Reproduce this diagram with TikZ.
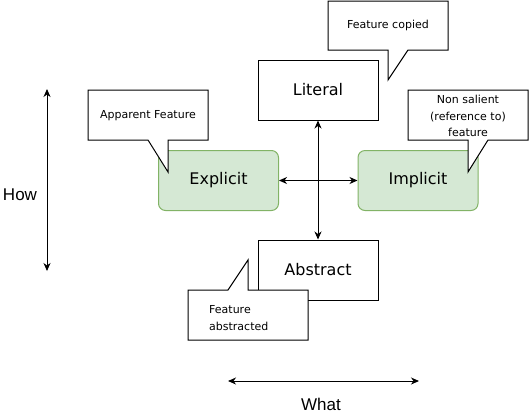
\documentclass[tikz,border=0pt]{standalone}
\usepackage{fontspec}
\setmainfont{DejaVu Sans}
\newfontfamily\arialf{Liberation Sans}
\usetikzlibrary{arrows.meta}
\definecolor{gfill}{HTML}{D5E8D4}
\definecolor{gline}{HTML}{82B366}
\begin{document}
\begin{tikzpicture}[x=1pt,y=-1pt,
  box/.style={draw=black,line width=1pt,fill=white,minimum width=120pt,minimum height=60pt,inner sep=0pt,font=\fontsize{16}{19}\selectfont},
  gbox/.style={draw=gline,line width=1pt,fill=gfill,rounded corners=7pt,minimum width=120pt,minimum height=60pt,inner sep=0pt,font=\fontsize{16}{19}\selectfont},
  callout/.style={draw=black,line width=1pt,fill=white},
  ctext/.style={font=\fontsize{11}{16.5}\selectfont,align=center,inner sep=0pt},
  axis/.style={line width=1pt,{Stealth[length=8pt,width=7pt,inset=2.5pt]}-{Stealth[length=8pt,width=7pt,inset=2.5pt]}},
  lbl/.style={font=\arialf\fontsize{17}{20}\selectfont,inner sep=0pt}
]
\useasboundingbox (0,0) rectangle (529,416);
% main boxes
\node[box] (lit) at (318,90) {Literal};
\node[box] (abs) at (318,270) {Abstract};
\node[gbox] (exp) at (218.5,180.5) {Explicit};
\node[gbox] (imp) at (418,180.5) {Implicit};
% cross connectors
\draw[axis] (exp.east) -- (imp.west);
\draw[axis] (lit.south) -- (abs.north);
% callouts
\draw[callout] (328,1) -- (448,1) -- (448,50) -- (408,50) -- (388,80) -- (388,50) -- (328,50) -- cycle;
\node[ctext] (t1) at (388,25.5) {Feature copied};
\draw[callout] (88,90) -- (208,90) -- (208,140) -- (168,140) -- (168,172) -- (148,140) -- (88,140) -- cycle;
\node[ctext] (t2) at (148,116) {Apparent Feature};
\draw[callout] (408,90) -- (528,90) -- (528,140) -- (488,140) -- (468,172) -- (468,140) -- (408,140) -- cycle;
\node[ctext] (t3) at (468,116) {Non salient\\(reference to)\\feature};
\draw[callout] (188,290) -- (228,290) -- (248,260) -- (248,290) -- (308,290) -- (308,340) -- (188,340) -- cycle;
\node[ctext,align=left,anchor=west] (t4) at (209,318) {Feature\\abstracted};
% side axes
\node[lbl] (how) at (20,195) {How};
\node[lbl] (what) at (321,404) {What};
\coordinate (h1) at (47,89);
\coordinate (h2) at (47,271);
\draw[axis] (h1) -- (h2);
\coordinate (w1) at (228,381);
\coordinate (w2) at (419,381);
\draw[axis] (w1) -- (w2);
\end{tikzpicture}
\end{document}
